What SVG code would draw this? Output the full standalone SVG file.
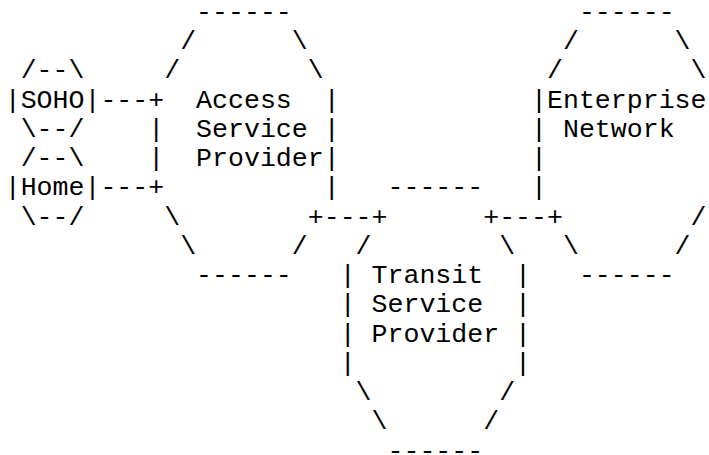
<svg xmlns="http://www.w3.org/2000/svg" width="709" height="455" viewBox="0 0 709 455">
<style>
text { font-family: "Liberation Mono", "Courier New", monospace; font-size: 26.58px; fill: #000; white-space: pre; }
</style>
<rect width="709" height="455" fill="#fff"/>
<g id="soho">
<text x="20.65" y="78.3">/--\</text>
<text x="4.7" y="107.55">|SOHO|</text>
<text x="20.65" y="136.8">\--/</text>
</g>
<g id="home">
<text x="20.65" y="166.05">/--\</text>
<text x="4.7" y="195.3">|Home|</text>
<text x="20.65" y="224.55">\--/</text>
</g>
<g id="access">
<text x="196.1" y="19.8">------</text>
<text x="180.15" y="49.05">/</text><text x="291.8" y="49.05">\</text>
<text x="164.2" y="78.3">/</text><text x="307.75" y="78.3">\</text>
<text x="196.1" y="107.55">Access</text><text x="323.7" y="107.55">|</text>
<text x="196.1" y="136.8">Service</text><text x="323.7" y="136.8">|</text>
<text x="196.1" y="166.05">Provider</text><text x="323.7" y="166.05">|</text>
<text x="323.7" y="195.3">|</text>
<text x="164.2" y="224.55">\</text>
<text x="180.15" y="253.8">\</text><text x="291.8" y="253.8">/</text>
<text x="196.1" y="283.05">------</text>
</g>
<g id="transit">
<text x="387.5" y="195.3">------</text>
<text x="355.6" y="253.8">/</text><text x="499.15" y="253.8">\</text>
<text x="339.65" y="283.05">|</text><text x="371.55" y="283.05">Transit</text><text x="515.1" y="283.05">|</text>
<text x="339.65" y="312.3">|</text><text x="371.55" y="312.3">Service</text><text x="515.1" y="312.3">|</text>
<text x="339.65" y="341.55">|</text><text x="371.55" y="341.55">Provider</text><text x="515.1" y="341.55">|</text>
<text x="339.65" y="370.8">|</text><text x="515.1" y="370.8">|</text>
<text x="355.6" y="400.05">\</text><text x="499.15" y="400.05">/</text>
<text x="371.55" y="429.3">\</text><text x="483.2" y="429.3">/</text>
<text x="387.5" y="458.55">------</text>
</g>
<g id="enterprise">
<text x="578.9" y="19.8">------</text>
<text x="562.95" y="49.05">/</text><text x="674.6" y="49.05">\</text>
<text x="547" y="78.3">/</text><text x="690.55" y="78.3">\</text>
<text x="531.05" y="107.55">|</text><text x="547" y="107.55">Enterprise</text>
<text x="531.05" y="136.8">|</text><text x="562.95" y="136.8">Network</text>
<text x="531.05" y="166.05">|</text>
<text x="531.05" y="195.3">|</text>
<text x="690.55" y="224.55">/</text>
<text x="562.95" y="253.8">\</text><text x="674.6" y="253.8">/</text>
<text x="578.9" y="283.05">------</text>
</g>
<g id="connectors">
<text x="100.4" y="107.55">---+</text>
<text x="148.25" y="136.8">|</text>
<text x="148.25" y="166.05">|</text>
<text x="100.4" y="195.3">---+</text>
<text x="307.75" y="224.55">+---+</text>
<text x="483.2" y="224.55">+---+</text>
</g>
</svg>
